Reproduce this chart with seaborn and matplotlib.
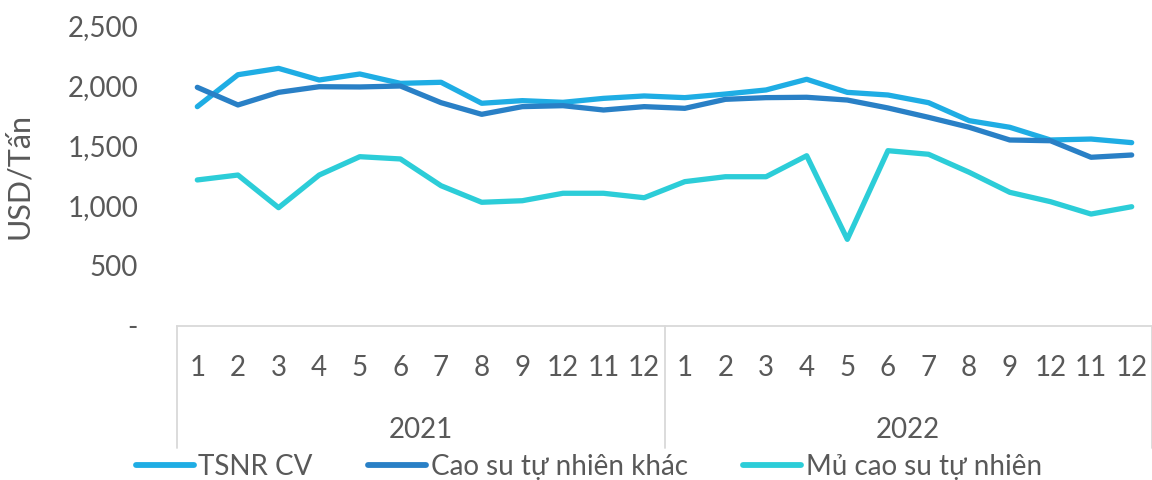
import numpy as np
import pandas as pd
import matplotlib
matplotlib.use("Agg")
import matplotlib.pyplot as plt
import matplotlib.transforms as mtransforms
from matplotlib.ticker import FuncFormatter
import seaborn as sns

# Monthly labels as printed on the category axis
years = ["2021", "2022"]
months = ["1", "2", "3", "4", "5", "6", "7", "8", "9", "12", "11", "12"]

# Export prices, USD per tonne
tsnr_cv = [1828, 2094, 2147, 2050, 2100, 2022, 2031, 1856, 1878, 1864, 1897, 1917,
           1903, 1933, 1967, 2056, 1947, 1925, 1861, 1711, 1656, 1550, 1558, 1528]
cao_su_khac = [1989, 1842, 1947, 1994, 1992, 2000, 1861, 1764, 1828, 1836, 1800, 1828,
               1814, 1889, 1903, 1906, 1883, 1817, 1739, 1656, 1550, 1544, 1406, 1425]
mu_cao_su = [1217, 1258, 986, 1258, 1411, 1392, 1169, 1031, 1044, 1106, 1106, 1069,
             1203, 1244, 1244, 1419, 722, 1461, 1431, 1281, 1114, 1036, 933, 994]

series_names = ["TSNR CV", "Cao su tự nhiên khác", "Mủ cao su tự nhiên"]
series_colors = ["#1FADE4", "#2980C6", "#2CCDD8"]

n = len(years) * len(months)
pos = np.arange(n)
df = pd.DataFrame({
    "pos": np.tile(pos, 3),
    "value": tsnr_cv + cao_su_khac + mu_cao_su,
    "series": np.repeat(series_names, n),
})

sns.set_theme(style="white")
plt.rcParams["font.family"] = ["Lato", "Noto Sans", "DejaVu Sans"]
text_color = "#595959"
axis_color = "#D9D9D9"
fs = 20

fig = plt.figure(figsize=(11.52, 4.8), dpi=100)
ax = fig.add_axes([177 / 1152, 1 - 326 / 480, (1152 - 177) / 1152, 300 / 480])

sns.lineplot(data=df, x="pos", y="value", hue="series", hue_order=series_names,
             palette=series_colors, linewidth=3.8, ax=ax, legend=True)
for line in ax.get_lines():
    line.set_solid_capstyle("round")
    line.set_solid_joinstyle("round")

ax.set_xlim(-0.5, n - 0.5)
ax.set_ylim(0, 2500)
ax.set_yticks(np.arange(0, 2501, 500))
ax.yaxis.set_major_formatter(FuncFormatter(lambda v, _: "-" if v == 0 else f"{int(v):,}"))
ax.set_xticks(pos)
ax.set_xticklabels(months * len(years))
ax.tick_params(axis="y", length=0, pad=28, labelsize=fs, labelcolor=text_color)
ax.tick_params(axis="x", length=0, pad=21, labelsize=fs, labelcolor=text_color)
ax.set_xlabel("")
ax.set_ylabel("USD/Tấn", fontsize=22, color=text_color)
ax.yaxis.set_label_coords(-0.148, 0.5)

for side in ["top", "right", "left"]:
    ax.spines[side].set_visible(False)
ax.spines["bottom"].set_color(axis_color)
ax.spines["bottom"].set_linewidth(1.3)

# Multi-level category axis: group separators and year labels
trans = mtransforms.blended_transform_factory(ax.transData, ax.transAxes)
bottom_frac = -(448 - 326) / 300
for xb in [-0.5, len(months) - 0.5, n - 0.5]:
    ax.plot([xb, xb], [0, bottom_frac], transform=trans, color=axis_color,
            linewidth=1.3, clip_on=False)
for i, yr in enumerate(years):
    xc = i * len(months) + (len(months) - 1) / 2
    ax.text(xc, -(430 - 326) / 300, yr, transform=trans, ha="center", va="center",
            fontsize=fs, color=text_color)

handles, labels = ax.get_legend_handles_labels()
for h in handles:
    h.set_linewidth(4.2)
    h.set_solid_capstyle("round")
ax.legend_.remove()
fig.legend(handles, labels, loc="center", bbox_to_anchor=(0.511, 0.028), ncol=3,
           frameon=False, fontsize=fs, labelcolor=text_color, handlelength=2.1,
           handletextpad=0.15, columnspacing=2.0)

fig.savefig("out.png", dpi=100)
